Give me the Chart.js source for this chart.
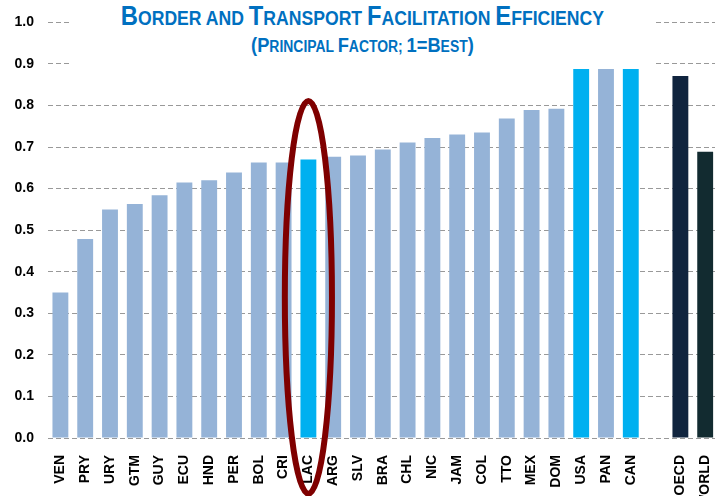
<!DOCTYPE html>
<html>
<head>
<meta charset="utf-8">
<script src="https://cdn.jsdelivr.net/npm/chart.js@4.4.1/dist/chart.umd.min.js"></script>
<style>
  html, body { margin: 0; padding: 0; background: #fff; }
  #wrap { position: relative; width: 715px; height: 496px; overflow: hidden; }
  #chartBox { position: absolute; left: 0; top: 0; width: 731px; height: 520px; }
  #title {
    position: absolute; left: 72px; top: 0; width: 581px; height: 68px;
    background: #fff; text-align: center; color: #0070C0;
    font-family: "Liberation Sans", Arial, sans-serif;
    font-weight: bold; line-height: 1;
  }
  #title .l1, #title .l2 { position: absolute; left: 0; right: 0; white-space: nowrap; }
  #title .l1 { top: 3px; font-size: 20px; transform: scaleX(0.88); transform-origin: 290px 0; }
  #title .l1 b { font-size: 27px; }
  #title .l2 { top: 34px; font-size: 16px; transform: scaleX(0.87); transform-origin: 290px 0; }
  #title .l2 b { font-size: 21px; }
</style>
</head>
<body>
<div id="wrap">
  <div id="chartBox"><canvas id="chart"></canvas></div>
  <div id="title">
    <div class="l1"><b>B</b>ORDER AND <b>T</b>RANSPORT <b>F</b>ACILITATION <b>E</b>FFICIENCY</div>
    <div class="l2"><b>(P</b>RINCIPAL <b>F</b>ACTOR; <b>1=B</b>EST<b>)</b></div>
  </div>
</div>
<script>
const categories = ['VEN', 'PRY', 'URY', 'GTM', 'GUY', 'ECU', 'HND', 'PER', 'BOL', 'CRI', 'LAC', 'ARG', 'SLV',
  'BRA', 'CHL', 'NIC', 'JAM', 'COL', 'TTO', 'MEX', 'DOM', 'USA', 'PAN', 'CAN', '', 'OECD', 'WORLD'];
const values = [0.350, 0.479, 0.550, 0.563, 0.584, 0.615, 0.620, 0.639, 0.663, 0.663, 0.670, 0.677, 0.680,
  0.694, 0.711, 0.722, 0.730, 0.735, 0.769, 0.789, 0.792, 0.888, 0.888, 0.888, null, 0.871, 0.689];
const highlighted = ['LAC', 'USA', 'CAN'];
const benchmarkNames = ['OECD', 'WORLD'];
const benchmarkColors = ['#10243E', '#122B30'];
const circled = 'LAC';

const barColors = categories.map((name) => {
  const b = benchmarkNames.indexOf(name);
  if (b >= 0) return benchmarkColors[b];
  return highlighted.includes(name) ? '#00B0F0' : '#95B3D7';
});

// red ring drawn around the regional average bar
const ellipsePlugin = {
  id: 'ellipse',
  afterDatasetsDraw(chart) {
    const x = chart.scales.x;
    const y = chart.scales.y;
    const idx = categories.indexOf(circled);
    const cx = x.getPixelForValue(idx);
    const slot = x.getPixelForValue(1) - x.getPixelForValue(0);
    const top = y.getPixelForValue(0.811);
    const bottom = y.getPixelForValue(-0.134);
    const ctx = chart.ctx;
    ctx.save();
    ctx.beginPath();
    ctx.ellipse(cx, (top + bottom) / 2, slot * 0.95, (bottom - top) / 2, 0, 0, Math.PI * 2);
    ctx.lineWidth = 6;
    ctx.strokeStyle = '#7F0000';
    ctx.stroke();
    ctx.restore();
  },
};

new Chart(document.getElementById('chart'), {
  type: 'bar',
  data: {
    labels: categories,
    datasets: [
      {
        data: values,
        backgroundColor: barColors,
        borderWidth: 0,
        categoryPercentage: 1,
        barPercentage: 0.64,
        skipNull: true,
      },
    ],
  },
  options: {
    responsive: true,
    maintainAspectRatio: false,
    animation: false,
    layout: { padding: { top: 20, right: 1, left: 0, bottom: 0 } },
    scales: {
      y: {
        min: 0,
        max: 1,
        ticks: {
          stepSize: 0.1,
          padding: 14,
          color: '#000',
          font: { family: 'Liberation Sans', weight: 'bold', size: 14 },
          callback: (v) => Number(v).toFixed(1),
        },
        grid: { color: '#999', lineWidth: 1, drawTicks: false },
        border: { display: false, dash: [5, 3] },
        afterFit: (scale) => { scale.width = 48; },
      },
      x: {
        ticks: {
          minRotation: 90,
          maxRotation: 90,
          autoSkip: false,
          padding: 9,
          color: '#000',
          font: { family: 'Liberation Sans', weight: 'bold', size: 14 },
        },
        grid: { display: false },
        border: { display: false },
        afterFit: (scale) => { scale.height = 82; },
      },
    },
    plugins: {
      legend: { display: false },
      tooltip: { enabled: false },
    },
  },
  plugins: [ellipsePlugin],
});
</script>
</body>
</html>
